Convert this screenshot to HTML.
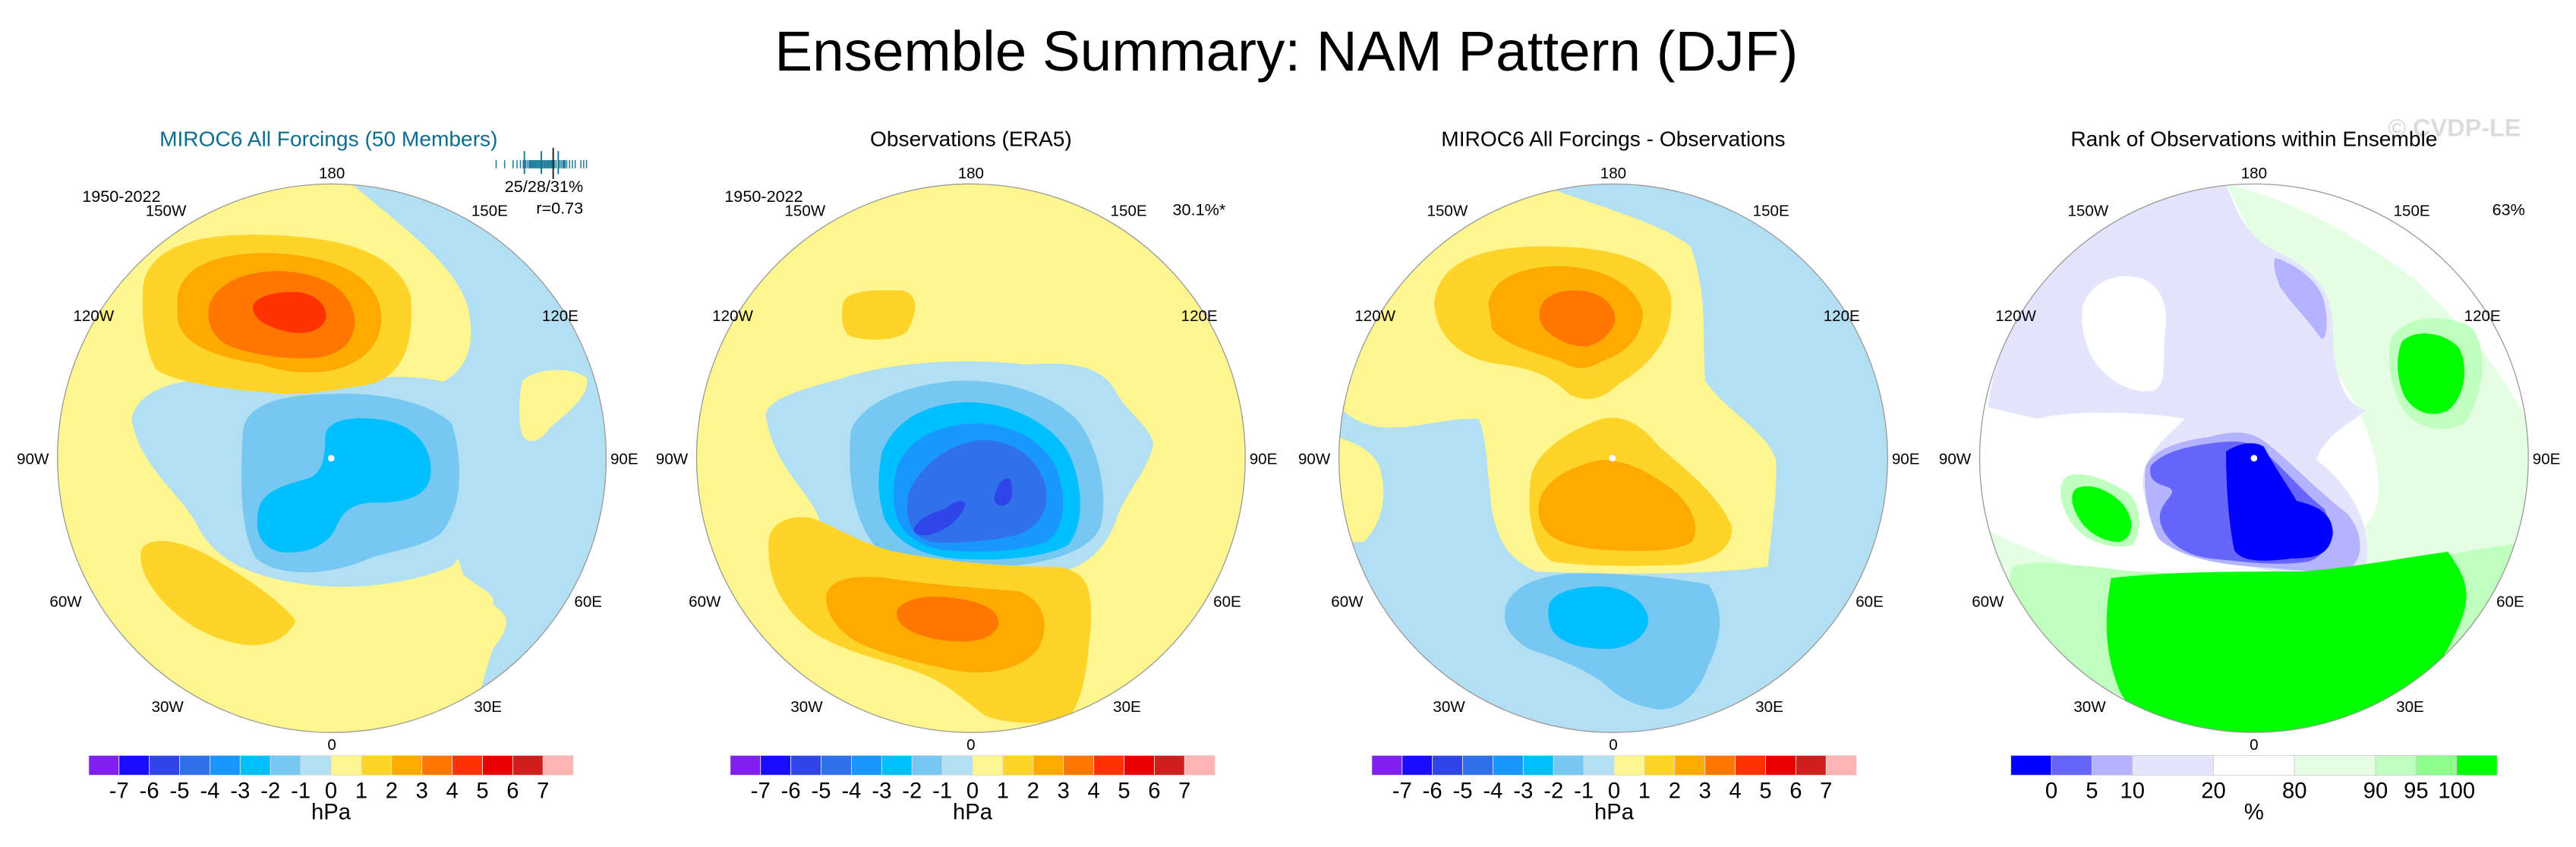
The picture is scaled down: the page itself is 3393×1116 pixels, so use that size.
<!DOCTYPE html>
<html><head><meta charset="utf-8"><style>
html,body{margin:0;padding:0;background:#fff;}
svg{display:block;font-family:"Liberation Sans",sans-serif;}
</style></head><body>
<svg id="fig" width="3393" height="1116" viewBox="0 0 1568 515.75" preserveAspectRatio="none" xmlns="http://www.w3.org/2000/svg">
<defs>
<clipPath id="c1"><circle cx="202" cy="279" r="167"/></clipPath>
<clipPath id="c2"><circle cx="591" cy="279" r="167"/></clipPath>
<clipPath id="c3"><circle cx="982" cy="279" r="167"/></clipPath>
<clipPath id="c4"><circle cx="1372" cy="279" r="167"/></clipPath>
</defs>
<text x="783" y="43" font-size="34.5" text-anchor="middle">Ensemble Summary: NAM Pattern (DJF)</text>
<text x="1494" y="83" font-size="15" font-weight="bold" fill="#dcdcdc" text-anchor="middle">© CVDP-LE</text>

<!-- Panel 1 -->
<g>
<text x="200" y="89" font-size="13" fill="#0e6c8c" text-anchor="middle">MIROC6 All Forcings (50 Members)</text>
<g clip-path="url(#c1)">
<rect x="30" y="100" width="350" height="360" fill="#fff68f"/>
<path d="M212,110 C240,135 278,160 285,188 C290,212 284,228 262,236 L255,240 C265,280 275,330 282,350 C295,360 302,362 300,368 C310,375 312,380 300,395 C295,410 290,430 285,450 L400,450 L400,100 Z" fill="#b3dff3"/>
<path d="M80,255 C85,235 110,232 130,230 C170,225 200,232 230,230 C260,228 285,232 290,250 C292,290 290,330 275,345 C245,357 210,360 180,355 C150,350 130,340 120,320 C110,300 85,285 80,255 Z" fill="#b3dff3"/>
<path d="M148,262 C150,245 175,240 200,240 C230,238 262,245 275,258 C282,280 282,310 268,325 C255,335 235,335 220,342 C200,350 170,352 156,340 C146,325 146,290 148,262 Z" fill="#76c8f2"/>
<path d="M198,265 C200,255 215,253 235,256 C255,260 264,275 262,290 C260,303 245,306 230,306 C215,306 210,310 205,320 C200,333 185,338 170,336 C158,333 154,322 158,308 C162,298 175,295 185,292 C196,290 198,280 198,265 Z" fill="#00bfff"/>
<path d="M318,232 C325,225 345,222 357,230 C360,240 345,252 335,260 C330,268 322,272 318,265 C315,255 316,240 318,232 Z" fill="#fff68f"/>
<path d="M87,175 C90,150 120,142 160,143 C200,144 240,150 250,180 C252,205 248,228 225,234 C200,238 190,240 175,240 C150,238 110,235 95,225 C88,212 86,195 87,175 Z" fill="#ffd42a"/>
<path d="M108,180 C112,160 135,154 165,154 C200,156 228,165 232,190 C234,210 220,222 200,226 C185,228 170,226 160,222 C135,218 112,212 108,195 Z" fill="#ffaa00"/>
<path d="M127,188 C130,172 150,165 170,165 C195,166 214,175 216,195 C216,210 205,217 190,218 C170,219 150,215 138,210 C130,205 126,198 127,188 Z" fill="#ff7700"/>
<path d="M154,186 C156,180 170,177 182,178 C195,180 200,188 198,195 C195,202 185,204 175,202 C162,199 153,194 154,186 Z" fill="#ff3300"/>
<path d="M86,335 C90,326 110,328 130,340 C150,352 170,365 180,378 C175,390 160,395 145,392 C125,388 110,378 98,365 C90,355 84,345 86,335 Z" fill="#ffd42a"/>
</g>
<circle cx="201.6" cy="279" r="2" fill="#fff"/>
<circle cx="202" cy="279" r="167" fill="none" stroke="#999" stroke-width="0.6"/>
</g>

<!-- Panel 2 -->
<g>
<text x="591" y="89" font-size="13" text-anchor="middle">Observations (ERA5)</text>
<g clip-path="url(#c2)">
<rect x="420" y="100" width="350" height="360" fill="#fff68f"/>
<path d="M513,185 C515,177 530,176 550,177 C560,180 558,192 552,202 C545,208 525,208 516,204 C512,198 512,192 513,185 Z" fill="#ffd42a"/>
<path d="M466,252 C470,240 495,236 520,228 C550,220 590,218 625,222 C650,220 672,222 680,240 C690,255 700,260 702,270 C700,285 685,300 680,315 C675,330 665,345 640,350 C610,354 575,352 545,345 C520,340 505,335 500,320 C495,300 470,285 466,252 Z" fill="#b3dff3"/>
<path d="M518,262 C525,245 550,235 580,232 C610,230 640,240 655,255 C668,270 675,300 670,320 C665,335 640,343 610,345 C580,347 550,345 535,335 C520,320 515,290 518,262 Z" fill="#76c8f2"/>
<path d="M537,275 C545,255 565,245 590,245 C615,245 640,258 650,275 C660,295 660,320 650,332 C635,340 605,342 580,340 C560,338 545,330 538,315 C534,300 534,290 537,275 Z" fill="#00bfff"/>
<path d="M546,285 C552,268 570,258 595,258 C615,258 635,268 643,285 C650,305 648,322 637,330 C620,336 595,337 575,335 C560,333 548,325 545,312 C543,302 544,292 546,285 Z" fill="#1a96ff"/>
<path d="M553,300 C560,285 575,270 598,268 C618,268 632,280 636,295 C640,310 632,322 618,326 C600,330 580,331 568,330 C556,328 550,318 553,300 Z" fill="#3070e8"/>
<path d="M556,322 C560,315 568,312 575,310 C580,306 585,303 588,307 C585,315 578,322 568,325 C562,327 556,326 556,322 Z" fill="#2e45ea"/>
<path d="M606,300 C608,293 612,290 615,292 C617,298 617,307 610,308 C606,308 604,305 606,300 Z" fill="#2e45ea"/>
<path d="M468,328 C470,318 480,314 492,315 C505,318 520,330 545,336 C575,342 610,345 640,345 C660,346 665,355 664,380 C662,405 660,425 650,438 C630,442 610,440 600,436 C585,425 575,415 560,410 C540,402 515,398 495,385 C478,372 466,355 468,328 Z" fill="#ffd42a"/>
<path d="M503,362 C506,352 520,350 540,352 C565,356 595,358 620,360 C635,365 640,380 632,395 C622,408 600,412 580,408 C560,404 535,398 520,390 C508,382 502,372 503,362 Z" fill="#ffaa00"/>
<path d="M546,372 C550,364 565,362 580,364 C595,366 608,370 608,380 C605,390 590,392 575,390 C560,388 544,382 546,372 Z" fill="#ff7700"/>
</g>
<circle cx="591" cy="279" r="167" fill="none" stroke="#999" stroke-width="0.6"/>
</g>

<!-- Panel 3 -->
<g>
<text x="982" y="89" font-size="13" text-anchor="middle">MIROC6 All Forcings - Observations</text>
<g clip-path="url(#c3)">
<rect x="810" y="100" width="350" height="360" fill="#b3dff3"/>
<path d="M930,110 C970,125 1010,135 1029,150 C1040,180 1036,210 1038,232 C1050,250 1075,262 1081,280 C1082,300 1078,325 1076,345 C1040,350 990,350 935,348 C918,340 912,330 908,310 C905,285 905,265 900,255 C880,254 860,262 840,260 C825,258 815,250 810,240 L810,100 Z" fill="#fff68f"/>
<path d="M810,265 C820,268 835,272 840,285 C845,305 840,320 830,330 L810,330 Z" fill="#fff68f"/>
<path d="M873,185 C875,160 900,150 940,150 C985,150 1012,160 1017,180 C1020,205 1005,222 985,234 C975,244 965,245 955,240 C945,230 935,225 915,222 C895,220 875,210 873,185 Z" fill="#ffd42a"/>
<path d="M906,185 C908,170 925,162 950,162 C975,163 995,172 1000,190 C1000,205 990,215 975,220 C965,226 958,225 950,220 C935,215 915,210 908,200 Z" fill="#ffaa00"/>
<path d="M937,190 C938,180 950,176 962,177 C975,178 984,186 983,196 C980,205 972,210 965,211 C955,211 946,206 940,200 C937,196 937,193 937,190 Z" fill="#ff7700"/>
<path d="M932,290 C935,275 955,262 975,255 C990,252 1000,260 1010,272 C1025,285 1045,300 1054,320 C1056,335 1040,343 1020,344 C995,345 965,345 945,342 C932,335 929,310 932,290 Z" fill="#ffd42a"/>
<path d="M937,305 C940,292 958,283 975,280 C990,280 1005,288 1018,298 C1030,308 1035,320 1030,330 C1020,336 1000,336 980,335 C960,334 945,330 940,322 C936,316 936,310 937,305 Z" fill="#ffaa00"/>
<path d="M916,372 C918,358 935,350 960,349 C990,349 1020,352 1040,356 C1050,370 1048,390 1040,405 C1035,420 1025,432 1010,432 C995,430 985,425 975,415 C960,405 945,400 930,395 C920,388 915,382 916,372 Z" fill="#76c8f2"/>
<path d="M943,368 C946,360 960,357 975,357 C990,358 1000,365 1003,375 C1005,385 995,393 982,395 C965,396 950,392 945,384 C942,378 942,372 943,368 Z" fill="#00bfff"/>
</g>
<circle cx="981.5" cy="279" r="2" fill="#fff"/>
<circle cx="982" cy="279" r="167" fill="none" stroke="#999" stroke-width="0.6"/>
</g>

<!-- Panel 4 -->
<g>
<text x="1372" y="89" font-size="13" text-anchor="middle">Rank of Observations within Ensemble</text>
<g clip-path="url(#c4)">
<rect x="1200" y="100" width="350" height="360" fill="#fff"/>
<path d="M1355,112 C1390,120 1430,140 1470,170 C1500,200 1520,220 1540,260 L1545,320 C1540,360 1520,400 1500,430 L1250,440 C1225,400 1210,360 1205,320 L1225,330 C1260,345 1300,360 1340,360 C1380,358 1420,340 1440,320 C1460,300 1440,240 1400,200 C1380,170 1370,140 1355,112 Z" fill="#e4ffe4"/>
<path d="M1210,248 C1215,205 1240,160 1280,130 C1310,115 1340,112 1355,112 C1360,125 1365,140 1380,150 C1400,160 1420,170 1420,200 C1420,225 1425,245 1440,250 C1430,258 1415,265 1410,280 C1430,295 1445,320 1440,345 C1420,355 1390,350 1370,345 C1340,340 1310,330 1305,300 C1300,280 1320,265 1330,255 C1300,250 1260,250 1240,255 Z" fill="#e4e4ff"/>
<path d="M1268,185 C1275,170 1290,165 1305,170 C1315,175 1320,185 1318,200 C1316,220 1320,235 1310,238 C1295,240 1280,230 1272,215 C1268,205 1266,195 1268,185 Z" fill="#fff"/>
<path d="M1385,157 C1395,160 1412,170 1415,185 C1418,200 1415,210 1412,205 C1405,195 1395,185 1388,175 C1385,168 1383,160 1385,157 Z" fill="#b3b3ff"/>
<path d="M1306,284 C1312,272 1330,268 1345,266 C1360,262 1370,262 1380,270 C1395,282 1412,300 1428,312 C1438,322 1440,340 1430,346 C1410,350 1390,346 1370,345 C1345,343 1325,338 1314,328 C1308,318 1304,298 1306,284 Z" fill="#b3b3ff"/>
<path d="M1309,284 C1315,276 1330,272 1345,270 C1360,268 1370,268 1378,275 C1390,285 1402,300 1415,310 C1420,325 1418,338 1405,342 C1385,345 1365,342 1345,340 C1330,338 1318,330 1315,318 C1312,305 1330,300 1318,296 C1310,294 1308,290 1309,284 Z" fill="#6666ff"/>
<path d="M1355,275 C1362,270 1372,268 1378,272 C1385,285 1392,295 1398,305 C1410,308 1420,312 1420,325 C1418,338 1410,340 1395,340 C1380,342 1365,343 1360,335 C1357,320 1355,300 1355,275 Z" fill="#0000ff"/>
<path d="M1225,345 C1240,340 1270,345 1300,348 C1340,350 1380,350 1420,348 C1450,345 1480,340 1505,335 L1540,330 C1530,380 1510,420 1480,445 L1240,445 C1225,420 1215,380 1225,345 Z" fill="#bfffbf"/>
<path d="M1285,352 C1320,348 1360,348 1400,348 C1430,346 1460,340 1490,336 C1500,350 1505,360 1498,378 C1490,398 1480,412 1470,422 C1440,442 1400,452 1370,452 C1330,450 1300,442 1290,420 C1282,400 1280,380 1285,352 Z" fill="#00ff00"/>
<path d="M1256,292 C1262,285 1280,290 1295,300 C1305,308 1303,325 1298,332 C1285,335 1270,330 1262,320 C1255,310 1252,300 1256,292 Z" fill="#bfffbf"/>
<path d="M1263,298 C1270,293 1285,298 1293,308 C1300,318 1298,328 1290,330 C1280,330 1270,324 1265,315 C1261,308 1260,302 1263,298 Z" fill="#00ff00"/>
<path d="M1456,205 C1465,192 1490,190 1505,200 C1515,215 1512,240 1500,258 C1485,265 1470,260 1462,248 C1455,235 1452,218 1456,205 Z" fill="#bfffbf"/>
<path d="M1462,208 C1470,200 1488,202 1497,212 C1503,225 1500,242 1490,250 C1478,255 1468,250 1463,240 C1459,230 1458,218 1462,208 Z" fill="#00ff00"/>
</g>
<circle cx="1372" cy="279" r="2" fill="#fff"/>
<circle cx="1372" cy="279" r="167" fill="none" stroke="#999" stroke-width="0.6"/>
</g>

<g id="labels"></g>
<g id="members"></g>
<g id="bars"></g>
</svg>
<script>
// Colorbar data
const hpaColors = ["#8020ee","#1a0cff","#2e45ea","#3070e8","#1a96ff","#00bfff","#76c8f2","#b3dff3","#fff68f","#ffd42a","#ffaa00","#ff7700","#ff3300","#e80000","#d01d1d","#ffb4b4"];
const hpaTicks = ["-7","-6","-5","-4","-3","-2","-1","0","1","2","3","4","5","6","7"];
const rankColors = ["#0000ff","#6666ff","#b3b3ff","#e4e4ff","#ffffff","#e4ffe4","#bfffbf","#8cff8c","#00ff00"];
const rankWidths = [1,1,1,2,2,2,1,1,1];
const rankTicks = ["0","5","10","20","80","90","95","100"];
// Ensemble member explained-variance values (%)
const memberValues = [20,21.5,23,23.7,24.3,24.8,25,25.2,25.5,25.8,26,26.2,26.4,26.6,26.8,27,27.2,27.4,27.6,27.8,28,28.1,28.2,28.4,28.6,28.8,29,29.2,29.4,29.6,29.8,30,30.3,30.6,31,31.2,31.5,31.8,32,32.2,32.5,33,33.5,34,35,35.5,36];
const memberPct = [25,28,31];
const obsPct = [30.1];
const NS="http://www.w3.org/2000/svg";
function mk(tag,attrs,parent){const e=document.createElementNS(NS,tag);for(const k in attrs)e.setAttribute(k,attrs[k]);parent.appendChild(e);return e;}
const bars=document.getElementById('bars');
const cbY=460, cbH=12;
[54,444.5,835].forEach((x0,pi)=>{
  const w=295/hpaColors.length;
  const g=mk('g',{},bars);
  
  
  hpaColors.forEach((c,i)=>{const r=mk('rect',{x:x0+i*w,y:cbY,width:w,height:cbH,fill:c,stroke:'#ddd','stroke-width':0.4},g);
    
    });
  hpaTicks.forEach((t,i)=>{const tx=mk('text',{x:x0+(i+1)*w,y:486,'font-size':13.5,'text-anchor':'middle'},g);tx.textContent=t;
    
    });
  const u=mk('text',{x:x0+147.5,y:499,'font-size':13.5,'text-anchor':'middle'},g);u.textContent='hPa';
  
  
});
(function(){
  const x0=1224,total=296,unit=total/rankWidths.reduce((a,b)=>a+b,0);
  const g=mk('g',{},bars);
  
  
  let x=x0;const bounds=[];
  rankColors.forEach((c,i)=>{const w=rankWidths[i]*unit;const r=mk('rect',{x:x,y:cbY,width:w,height:cbH,fill:c,stroke:'#ccc','stroke-width':0.4},g);
    
    
    x+=w;bounds.push(x);});
  rankTicks.forEach((t,i)=>{const tx=mk('text',{x:bounds[i],y:486,'font-size':13.5,'text-anchor':'middle'},g);tx.textContent=t;
    
    });
  const u=mk('text',{x:x0+148,y:499,'font-size':13.5,'text-anchor':'middle'},g);u.textContent='%';
  
  
})();
// Member strip
(function(){
  const g=document.getElementById('members');
  const x0=302,x1=357,vmin=20,vmax=36;
  const sx=v=>x0+(v-vmin)/(vmax-vmin)*(x1-x0);
  memberValues.forEach(v=>{const l=mk('line',{x1:sx(v),x2:sx(v),y1:97.5,y2:102.5,stroke:'#1a7a9a','stroke-width':0.7},g);
    
    });
  memberPct.forEach(v=>{const l=mk('line',{x1:sx(v),x2:sx(v),y1:92,y2:106,stroke:'#1a7a9a','stroke-width':0.9},g);
    
    });
  obsPct.forEach(v=>{const l=mk('line',{x1:sx(v),x2:sx(v),y1:90,y2:109,stroke:'#222','stroke-width':0.9},g);
    
    });
})();
// Longitude labels
const lonNames=["180","150W","150E","120W","120E","90W","90E","60W","60E","30W","30E","0"];
const lonDx=[0,-101,96,-145,139,-182,178,-162,156,-100,95,0];
const lonDy=[-174,-151,-151,-87,-87,0,0,87,87,151,151,174];
const lab=document.getElementById('labels');
[202,591,982,1372].forEach(cx=>{
  lonNames.forEach((n,i)=>{const t=mk('text',{x:cx+lonDx[i],y:279+lonDy[i]+3.5,'font-size':9.5,'text-anchor':'middle'},lab);t.textContent=n;
    
    });
});
[[50,123,'1950-2022','start','period-label'],[441,123,'1950-2022','start','period-label'],
 [355,117,'25/28/31%','end','member-percent-label'],[355,130,'r=0.73','end','pattern-correlation'],
 [746,131,'30.1%*','end','obs-percent-label'],[1537,131,'63%','end','rank-percent-label']].forEach(a=>{
  const t=mk('text',{x:a[0],y:a[1],'font-size':10,'text-anchor':a[3]},lab);t.textContent=a[2];
  
  
});
</script>
</body></html>
